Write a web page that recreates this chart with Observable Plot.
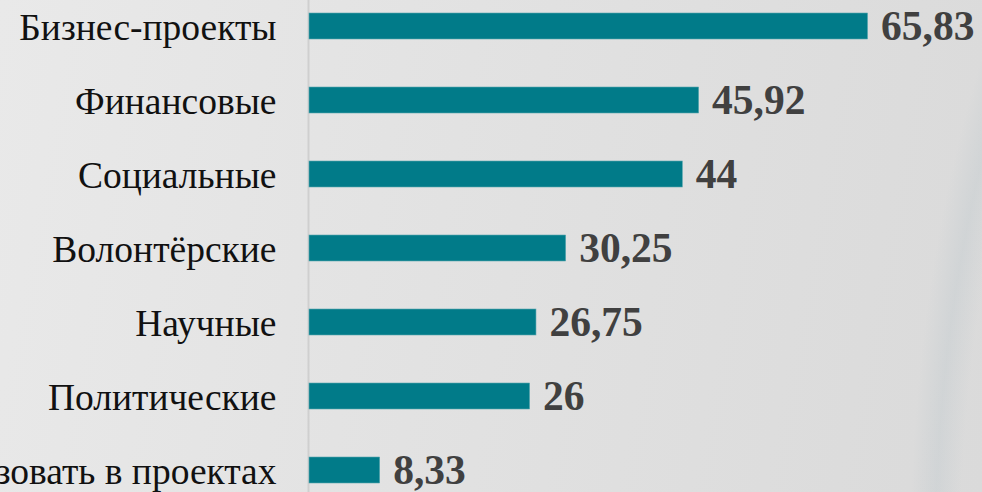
<!DOCTYPE html>
<html>
<head>
<meta charset="utf-8">
<script src="https://cdn.jsdelivr.net/npm/d3@7"></script>
<script src="https://cdn.jsdelivr.net/npm/@observablehq/plot@0.6"></script>
<style>
  html, body { margin: 0; padding: 0; }
  body {
    width: 982px; height: 492px; overflow: hidden;
    background: linear-gradient(100deg, #e9e9e9 0%, #e2e2e2 45%, #dadada 100%);
    position: relative;
  }
  #swoosh {
    position: absolute; left: 0; top: 0; width: 982px; height: 492px;
    background: radial-gradient(ellipse 420px 900px at 1330px 560px, rgba(0,0,0,0) 88%, rgba(190,200,205,0.35) 94%, rgba(0,0,0,0) 100%);
    pointer-events: none;
  }
  #chart { position: absolute; left: 0; top: 0; }
</style>
</head>
<body>
<div id="swoosh"></div>
<div id="chart"></div>
<script>
const categories = [
  "Бизнес-проекты",
  "Финансовые",
  "Социальные",
  "Волонтёрские",
  "Научные",
  "Политические",
  "Не хочу реализовать в проектах"
];
const values = [65.83, 45.92, 44, 30.25, 26.75, 26, 8.33];

const data = categories.map((c, i) => ({category: c, value: values[i]}));
const fmt = v => String(v).replace(".", ",");

const chart = Plot.plot({
  width: 982,
  height: 492,
  marginLeft: 0,
  marginRight: 0,
  marginTop: 0,
  marginBottom: 0,
  style: {background: "transparent", overflow: "visible"},
  x: {domain: [0, 66], range: [309, 869], axis: null},
  y: {domain: categories, range: [-13.2, 508.3], padding: 0.65, paddingOuter: 0.325, axis: null},
  marks: [
    Plot.ruleX([0], {x: d => d, dx: -1, stroke: "#cfcfcf", strokeWidth: 2}),
    Plot.barX(data, {x: "value", y: "category", fill: "#017b89", stroke: "#5aa7b0", strokeWidth: 0.6}),
    Plot.text(data, {
      x: 0, y: "category", text: "category", dx: -33, dy: 1,
      textAnchor: "end", fill: "#111111",
      fontFamily: "Liberation Serif, Times New Roman, serif", fontSize: 37.5
    }),
    Plot.text(data, {
      x: "value", y: "category", text: d => fmt(d.value), dx: 13, dy: 0,
      textAnchor: "start", fill: "#404040", fontWeight: "bold",
      fontFamily: "Liberation Serif, Times New Roman, serif", fontSize: 41.5
    })
  ]
});
document.getElementById("chart").appendChild(chart);
</script>
</body>
</html>
